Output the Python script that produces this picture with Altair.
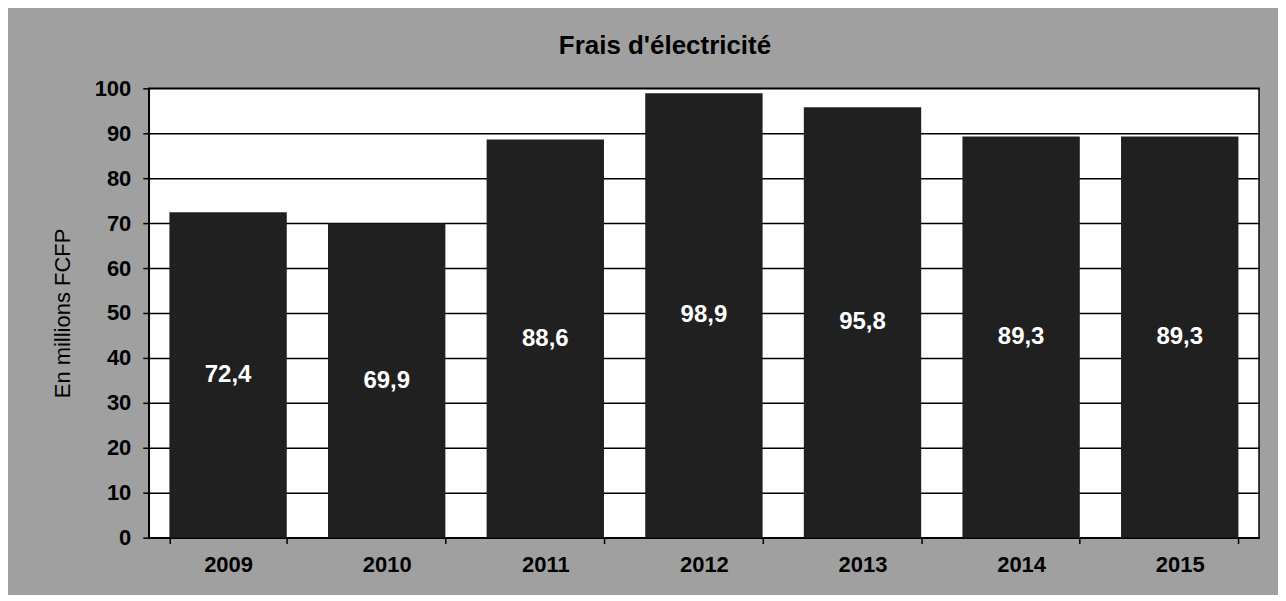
import altair as alt
import pandas as pd

years = ["2009", "2010", "2011", "2012", "2013", "2014", "2015"]
values = [72.4, 69.9, 88.6, 98.9, 95.8, 89.3, 89.3]
y_ticks = [0, 10, 20, 30, 40, 50, 60, 70, 80, 90, 100]

df = pd.DataFrame({"year": years, "value": values})

FONT = "Liberation Sans"

base = alt.Chart(df)

x = alt.X("year:N", sort=years, title=None,
          scale=alt.Scale(paddingInner=0.26, paddingOuter=0.13),
          axis=alt.Axis(labelAngle=0, labelFontSize=22, labelFontWeight="bold",
                        labelColor="black", labelFont=FONT, tickBand="extent",
                        tickSize=6, tickColor="black", tickWidth=1.5,
                        domainColor="black", domainWidth=1.5, labelPadding=11))

bars = base.mark_bar(color="#202020").encode(
    x=x,
    y=alt.Y("value:Q", title="En millions FCFP",
            scale=alt.Scale(domain=[0, 100], nice=False),
            axis=alt.Axis(values=y_ticks, labelFontSize=22, labelFontWeight="bold",
                          labelColor="black", labelFont=FONT, tickSize=6,
                          tickColor="black", tickWidth=1.5, domainColor="black",
                          domainWidth=1.5, labelPadding=12, grid=True,
                          gridColor="black", gridWidth=1.5,
                          titleFont=FONT, titleFontSize=22, titleFontWeight="normal",
                          titleColor="black", titlePadding=20)),
)

labels = base.transform_calculate(
    half="datum.value / 2",
    lab="replace(format(datum.value, '.1f'), '.', ',')",
).mark_text(color="white", fontSize=24, fontWeight="bold", font=FONT,
            baseline="middle").encode(
    x=alt.X("year:N", sort=years),
    y=alt.Y("half:Q"),
    text="lab:N",
)

chart = alt.layer(bars, labels).properties(
    width=1112,
    height=450,
    autosize=alt.AutoSizeParams(type="none"),
    padding={"left": 141, "top": 80, "right": 19, "bottom": 57},
    background="#a0a0a0",
    title=alt.TitleParams("Frais d'électricité", font=FONT, fontSize=26,
                          fontWeight="bold", color="black", anchor="middle",
                          dx=-39, offset=18),
).configure_view(fill="white", stroke="black", strokeWidth=1.5)

chart.save("out.html", embed_options={"renderer": "svg", "actions": False})
